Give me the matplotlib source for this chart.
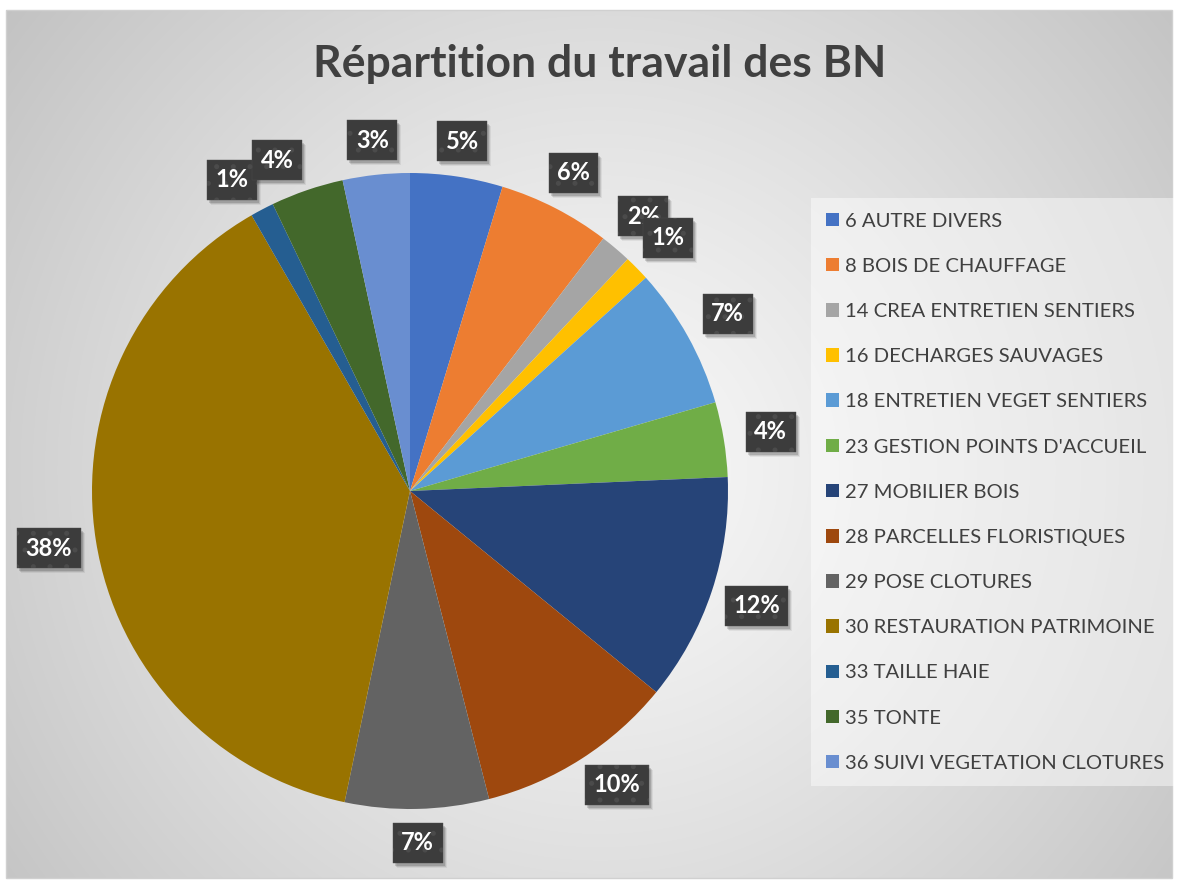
import numpy as np
import matplotlib
matplotlib.use('Agg')
import matplotlib.pyplot as plt
from matplotlib.patches import Rectangle

# ---------------- data ----------------
categories = ['6 AUTRE DIVERS', '8 BOIS DE CHAUFFAGE', '14 CREA ENTRETIEN SENTIERS',
              '16 DECHARGES SAUVAGES', '18 ENTRETIEN VEGET SENTIERS',
              "23 GESTION POINTS D'ACCUEIL", '27 MOBILIER BOIS',
              '28 PARCELLES FLORISTIQUES', '29 POSE CLOTURES',
              '30 RESTAURATION PATRIMOINE', '33 TAILLE HAIE', '35 TONTE',
              '36 SUIVI VEGETATION CLOTURES']
shares = [4.7, 5.7, 1.6, 1.3, 7.2, 3.8, 11.6, 10.1, 7.3, 38.4, 1.2, 3.7, 3.4]
colors = ['#4472C4', '#ED7D31', '#A5A5A5', '#FFC000', '#5B9BD5', '#70AD47',
          '#264478', '#9E480E', '#636363', '#997300', '#255E91', '#43682B',
          '#698ED0']
title = 'Répartition du travail des BN'

# label angle nudges (degrees, layout only) to mimic the "best fit" placement
label_nudge = {7: 2.6, 10: 2.0, 11: 3.0}

FONT = ['Lato', 'DejaVu Sans']
W, H = 1178, 882
fig = plt.figure(figsize=(W / 100, H / 100), dpi=100)
fig.patch.set_facecolor('white')

# ---------------- background (radial gradient) ----------------
bg = fig.add_axes([0, 0, 1, 1])
x0, y0, x1, y1 = 6, 10, 1172, 878
yy, xx = np.mgrid[y0:y1, x0:x1].astype(float)
d = np.sqrt(((xx - 600) / 760) ** 2 + ((yy - 470) / 760) ** 2)
d = np.clip(d, 0, 1) ** 1.2
c_in, c_out = 0.975, 0.76
val = c_in + (c_out - c_in) * d
img = np.dstack([val, val, val])
bg.imshow(img, extent=(x0, x1, y1, y0), interpolation='bilinear', aspect='auto')
bg.add_patch(Rectangle((x0, y0), x1 - x0, y1 - y0, fill=False, ec='#d0d0d0', lw=1))
bg.set_xlim(0, W)
bg.set_ylim(H, 0)
bg.axis('off')

# title
bg.text(600, 77, title, ha='center', va='baseline', fontsize=32,
        fontweight='bold', color='#404040', family=FONT)

# ---------------- pie ----------------
cx, cy, R = 410, 491, 318
L = 1.05
ax = fig.add_axes([(cx - L * R) / W, (H - cy - L * R) / H, 2 * L * R / W, 2 * L * R / H])
ax.patch.set_alpha(0)
plt.rcParams['hatch.linewidth'] = 1.2
wedges, texts, autotexts = ax.pie(
    shares, colors=colors, startangle=90, counterclock=False,
    autopct='%.0f%%', pctdistance=1.13, wedgeprops=dict(linewidth=0))
ax.set_xlim(-L, L)
ax.set_ylim(-L, L)

for i, (w, t) in enumerate(zip(wedges, autotexts)):
    phi = np.deg2rad(0.5 * (w.theta1 + w.theta2) + label_nudge.get(i, 0.0))
    r = 1.105 + 0.045 * abs(np.cos(phi))
    t.set_position((r * np.cos(phi), r * np.sin(phi)))
    t.set_fontsize(17)
    t.set_fontweight('bold')
    t.set_family(FONT)
    t.set_color('white')
    t.set_zorder(5)
    t.set_bbox(dict(boxstyle='square,pad=0.36', fc='#3c3c3c', ec='#4b4b4b',
                    lw=0.3, hatch='.'))

# soft drop shadows behind the label boxes (pixel offsets from rendered boxes)
fig.canvas.draw()
renderer = fig.canvas.get_renderer()
for t in autotexts:
    ext = t.get_bbox_patch().get_window_extent(renderer)
    for k, a in ((5, 0.06), (4, 0.1), (3, 0.14)):
        bg.add_patch(Rectangle((ext.x0 + k - 1, H - ext.y1 + k), ext.width, ext.height,
                               fc=(0, 0, 0, a), ec='none', zorder=3))

# ---------------- legend ----------------
leg = fig.legend(wedges, categories, loc='upper left',
                 bbox_to_anchor=(811 / W, 1 - 198 / H),
                 frameon=True, fancybox=False, facecolor='white', framealpha=0.45,
                 edgecolor='none', prop=dict(family=FONT, size=14.6),
                 labelcolor='#404040', handlelength=0.65, handleheight=0.65,
                 labelspacing=1.39, borderpad=0.72, handletextpad=0.3,
                 borderaxespad=0)

fig.savefig('out.png', dpi=100)
